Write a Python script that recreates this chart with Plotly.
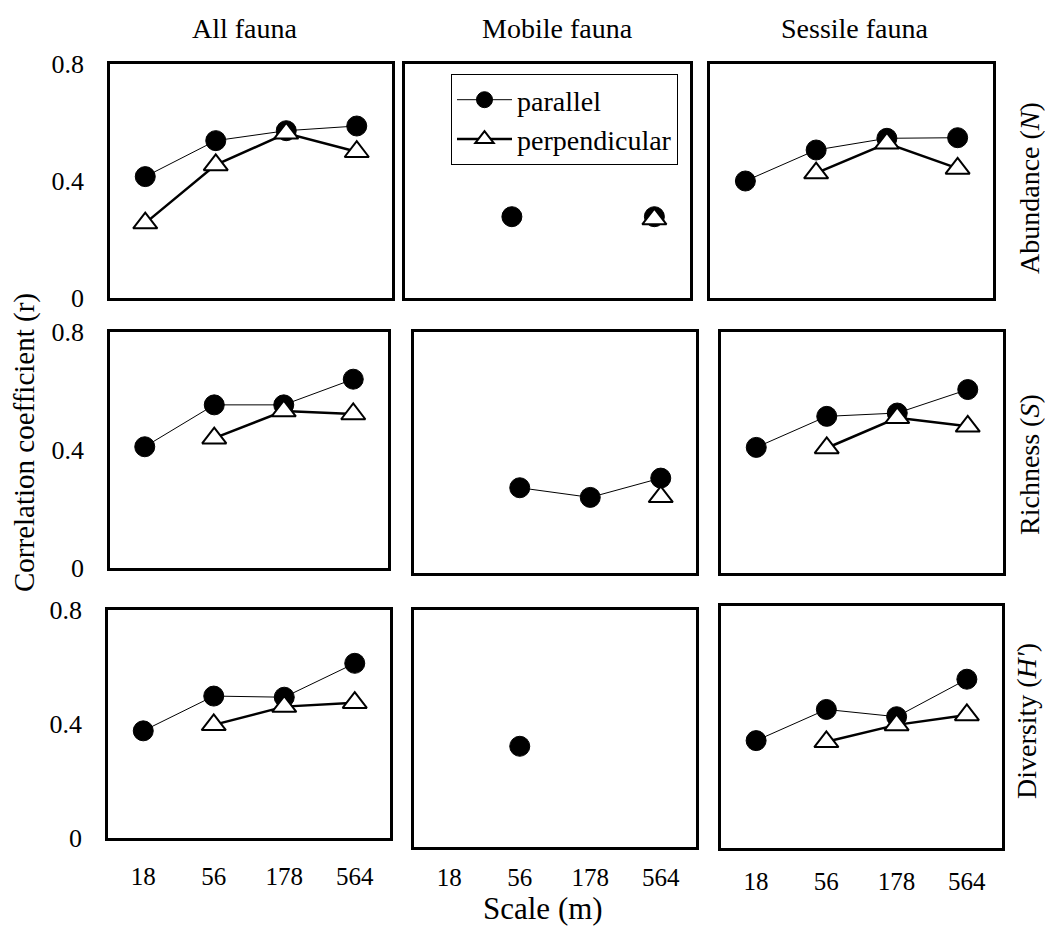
import plotly.graph_objects as go

W, H = 1045, 941

# ---------------- data ----------------
scales = ["18", "56", "178", "564"]
y_tick_vals = [0, 0.4, 0.8]
y_tick_text = ["0", "0.4", "0.8"]

col_titles = ["All fauna", "Mobile fauna", "Sessile fauna"]
row_titles = ["Abundance (<i>N</i>)", "Richness (<i>S</i>)", "Diversity (<i>H'</i>)"]
series_names = ["parallel", "perpendicular"]

# Abundance (N)
all_abund_par = [0.415, 0.538, 0.572, 0.588]
all_abund_perp = [0.256, 0.455, 0.563, 0.500]
mob_abund_par = [None, 0.278, None, 0.278]
mob_abund_perp = [None, None, None, 0.270]
ses_abund_par = [0.400, 0.506, 0.546, 0.548]
ses_abund_perp = [None, 0.427, 0.529, 0.443]

# Richness (S)
all_rich_par = [0.411, 0.553, 0.553, 0.640]
all_rich_perp = [None, 0.440, 0.532, 0.522]
mob_rich_par = [None, 0.283, 0.251, 0.315]
mob_rich_perp = [None, None, None, 0.253]
ses_rich_par = [0.417, 0.520, 0.531, 0.609]
ses_rich_perp = [None, 0.415, 0.515, 0.487]

# Diversity (H')
all_div_par = [0.376, 0.498, 0.494, 0.613]
all_div_perp = [None, 0.397, 0.461, 0.475]
mob_div_par = [None, 0.340, None, None]
mob_div_perp = [None, None, None, None]
ses_div_par = [0.355, 0.458, 0.434, 0.558]
ses_div_perp = [None, 0.351, 0.407, 0.440]

panels = [
    [(all_abund_par, all_abund_perp), (mob_abund_par, mob_abund_perp), (ses_abund_par, ses_abund_perp)],
    [(all_rich_par, all_rich_perp), (mob_rich_par, mob_rich_perp), (ses_rich_par, ses_rich_perp)],
    [(all_div_par, all_div_perp), (mob_div_par, mob_div_perp), (ses_div_par, ses_div_perp)],
]

# ---------------- layout geometry (px: left, right, top, bottom) ----------------
boxes = [
    [(110, 392, 64, 298), (405, 690, 64, 298), (710, 993, 64, 298)],
    [(110, 388, 332, 568), (414, 696, 332, 573), (721, 1003, 332, 573)],
    [(108, 390, 610, 838), (414, 696, 610, 847), (721, 1002, 606, 848)],
]
xlab_standoff = [14, 6, 9]

FONT = "Liberation Serif"
fig = go.Figure()
layout = {}

for r in range(3):
    for c in range(3):
        n = r * 3 + c + 1
        sfx = "" if n == 1 else str(n)
        par, perp = panels[r][c]
        show_leg = (r == 0 and c == 1)
        fig.add_trace(go.Scatter(
            x=scales, y=par, mode="lines+markers", name=series_names[0],
            xaxis="x" + sfx, yaxis="y" + sfx, connectgaps=False,
            line=dict(color="black", width=1),
            marker=dict(symbol="circle", size=20, color="black",
                        line=dict(color="black", width=1)),
            showlegend=show_leg, legendrank=1,
        ))
        fig.add_trace(go.Scatter(
            x=scales, y=perp, mode="lines+markers", name=series_names[1],
            xaxis="x" + sfx, yaxis="y" + sfx, connectgaps=False,
            line=dict(color="black", width=2.5),
            marker=dict(symbol="triangle-up", size=21, color="white",
                        line=dict(color="black", width=2)),
            showlegend=show_leg, legendrank=2,
        ))
        l, rr, t, b = boxes[r][c]
        layout["xaxis" + sfx] = dict(
            domain=[l / W, rr / W], anchor="y" + sfx, automargin=False,
            type="category", categoryorder="array", categoryarray=scales,
            range=[-0.5, 3.5], showline=True, mirror=True, linecolor="black",
            linewidth=2.5, showgrid=False, zeroline=False, ticks="",
            showticklabels=(r == 2), ticklabelstandoff=xlab_standoff[c],
            tickfont=dict(family=FONT, size=25, color="black"),
        )
        layout["yaxis" + sfx] = dict(
            domain=[1 - b / H, 1 - t / H], anchor="x" + sfx, automargin=False,
            range=[0, 0.8], showline=True, mirror=True, linecolor="black",
            linewidth=2.5, showgrid=False, zeroline=False, ticks="",
            tickvals=y_tick_vals, ticktext=y_tick_text,
            showticklabels=(c == 0), ticklabelstandoff=18,
            tickfont=dict(family=FONT, size=26, color="black"),
        )

annotations = []
col_x = [245, 557, 855]
for i, txt in enumerate(col_titles):
    annotations.append(dict(text=txt, x=col_x[i] / W, y=1 - 28 / H, xref="paper", yref="paper",
                            showarrow=False, xanchor="center", yanchor="middle",
                            font=dict(family=FONT, size=28, color="black")))
row_y = [188, 465, 721]
row_xpx = [1029, 1029, 1026]
for i, txt in enumerate(row_titles):
    annotations.append(dict(text=txt, x=row_xpx[i] / W, y=1 - row_y[i] / H, xref="paper", yref="paper",
                            showarrow=False, xanchor="center", yanchor="middle", textangle=-90,
                            font=dict(family=FONT, size=28, color="black")))
annotations.append(dict(text="Correlation coefficient (r)", x=25 / W, y=1 - 443 / H,
                        xref="paper", yref="paper", showarrow=False, textangle=-90,
                        xanchor="center", yanchor="middle",
                        font=dict(family=FONT, size=29, color="black")))
annotations.append(dict(text="Scale (m)", x=543 / W, y=1 - 908 / H,
                        xref="paper", yref="paper", showarrow=False,
                        xanchor="center", yanchor="middle",
                        font=dict(family=FONT, size=31, color="black")))

fig.update_layout(
    template="none",
    width=W, height=H, margin=dict(l=0, r=0, t=0, b=0, pad=0, autoexpand=False),
    paper_bgcolor="white", plot_bgcolor="white",
    font=dict(family=FONT, size=26, color="black"),
    showlegend=True,
    legend=dict(x=451 / W, y=1 - 74 / H, xanchor="left", yanchor="top",
                bgcolor="white", bordercolor="black", borderwidth=1,
                font=dict(family=FONT, size=28, color="black"),
                itemwidth=55, tracegroupgap=0),
    annotations=annotations,
    **layout,
)

fig.write_html("out.html")
